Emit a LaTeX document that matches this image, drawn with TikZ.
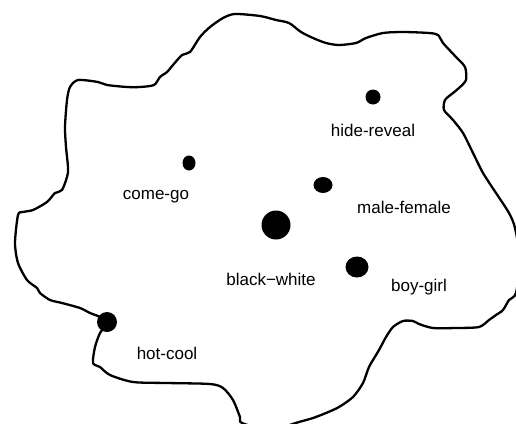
\documentclass[tikz,border=0pt]{standalone}
\usepackage{fontspec}
\setmainfont{Liberation Sans}
\usetikzlibrary{shapes.geometric}
\begin{document}
\begin{tikzpicture}[x=1pt,y=-1pt,
  blob/.style={line width=2.3pt, line join=round},
  dotnode/.style={circle, fill=black, inner sep=0pt},
  ovalnode/.style={ellipse, fill=black, inner sep=0pt},
  lbl/.style={font=\fontsize{17}{20}\selectfont, inner sep=0pt, text=black}]
\useasboundingbox (0,0) rectangle (516,423);
\begin{scope}
\clip (0,0) rectangle (516,423);
\draw[blob] plot[smooth cycle, tension=0.45] coordinates {
(235,14) (260,16) (276,20) (289,23) (301,32) (313,38) (326,43) (339,45) (356,43) (366,38) (383,33) (403,32) (429,33) (438,35) (443,43) (456,57) (465,67) (466,80) (459,88) (453,93) (445,100) (444,110) (453,120) (463,133) (473,153) (483,173) (496,193) (509,213) (515,228) (520,260) (516,293) (509,300) (503,310) (496,315) (489,320) (479,327) (456,328) (433,328) (419,324) (413,321) (403,321) (393,327) (386,337) (379,350) (369,367) (363,383) (353,397) (339,407) (326,413) (313,418) (299,422) (270,430) (242,423) (240,417) (233,400) (223,388) (210,384) (167,383) (133,382) (110,375) (100,367) (93,363) (95,347) (100,333) (107,323) (100,317) (90,313) (80,308) (62,303) (50,300) (40,293) (37,288) (27,280) (18,263) (15,243) (18,215) (23,212) (33,210) (47,202) (55,193) (62,190) (68,172) (66,147) (65,127) (67,100) (70,87) (78,80) (98,82) (107,85) (127,87) (140,87) (154,85) (160,77) (167,72) (173,65) (182,55) (190,52) (200,37) (210,27) (223,18)};
\end{scope}
% dots
\node[dotnode, minimum size=15pt] (hr) at (373,97) {};
\node[ovalnode, minimum width=13pt, minimum height=15pt] (cg) at (189,163) {};
\node[ovalnode, minimum width=19pt, minimum height=16pt] (mf) at (323,185) {};
\node[dotnode, minimum size=29pt] (bw) at (276,225) {};
\node[ovalnode, minimum width=23pt, minimum height=21pt] (bg) at (357,267) {};
\node[dotnode, minimum size=20pt] (hc) at (107,322) {};
% labels
\node[lbl] (hrl) at (373,130) {hide-reveal};
\node[lbl] (cgl) at (156,197) {come-go};
\node[lbl] (mfl) at (404,207) {male-female};
\node[lbl] (bwl) at (271,279) {black−white};
\node[lbl] (bgl) at (419,287) {boy-girl};
\node[lbl] (hcl) at (167,353) {hot-cool};
\end{tikzpicture}
\end{document}
